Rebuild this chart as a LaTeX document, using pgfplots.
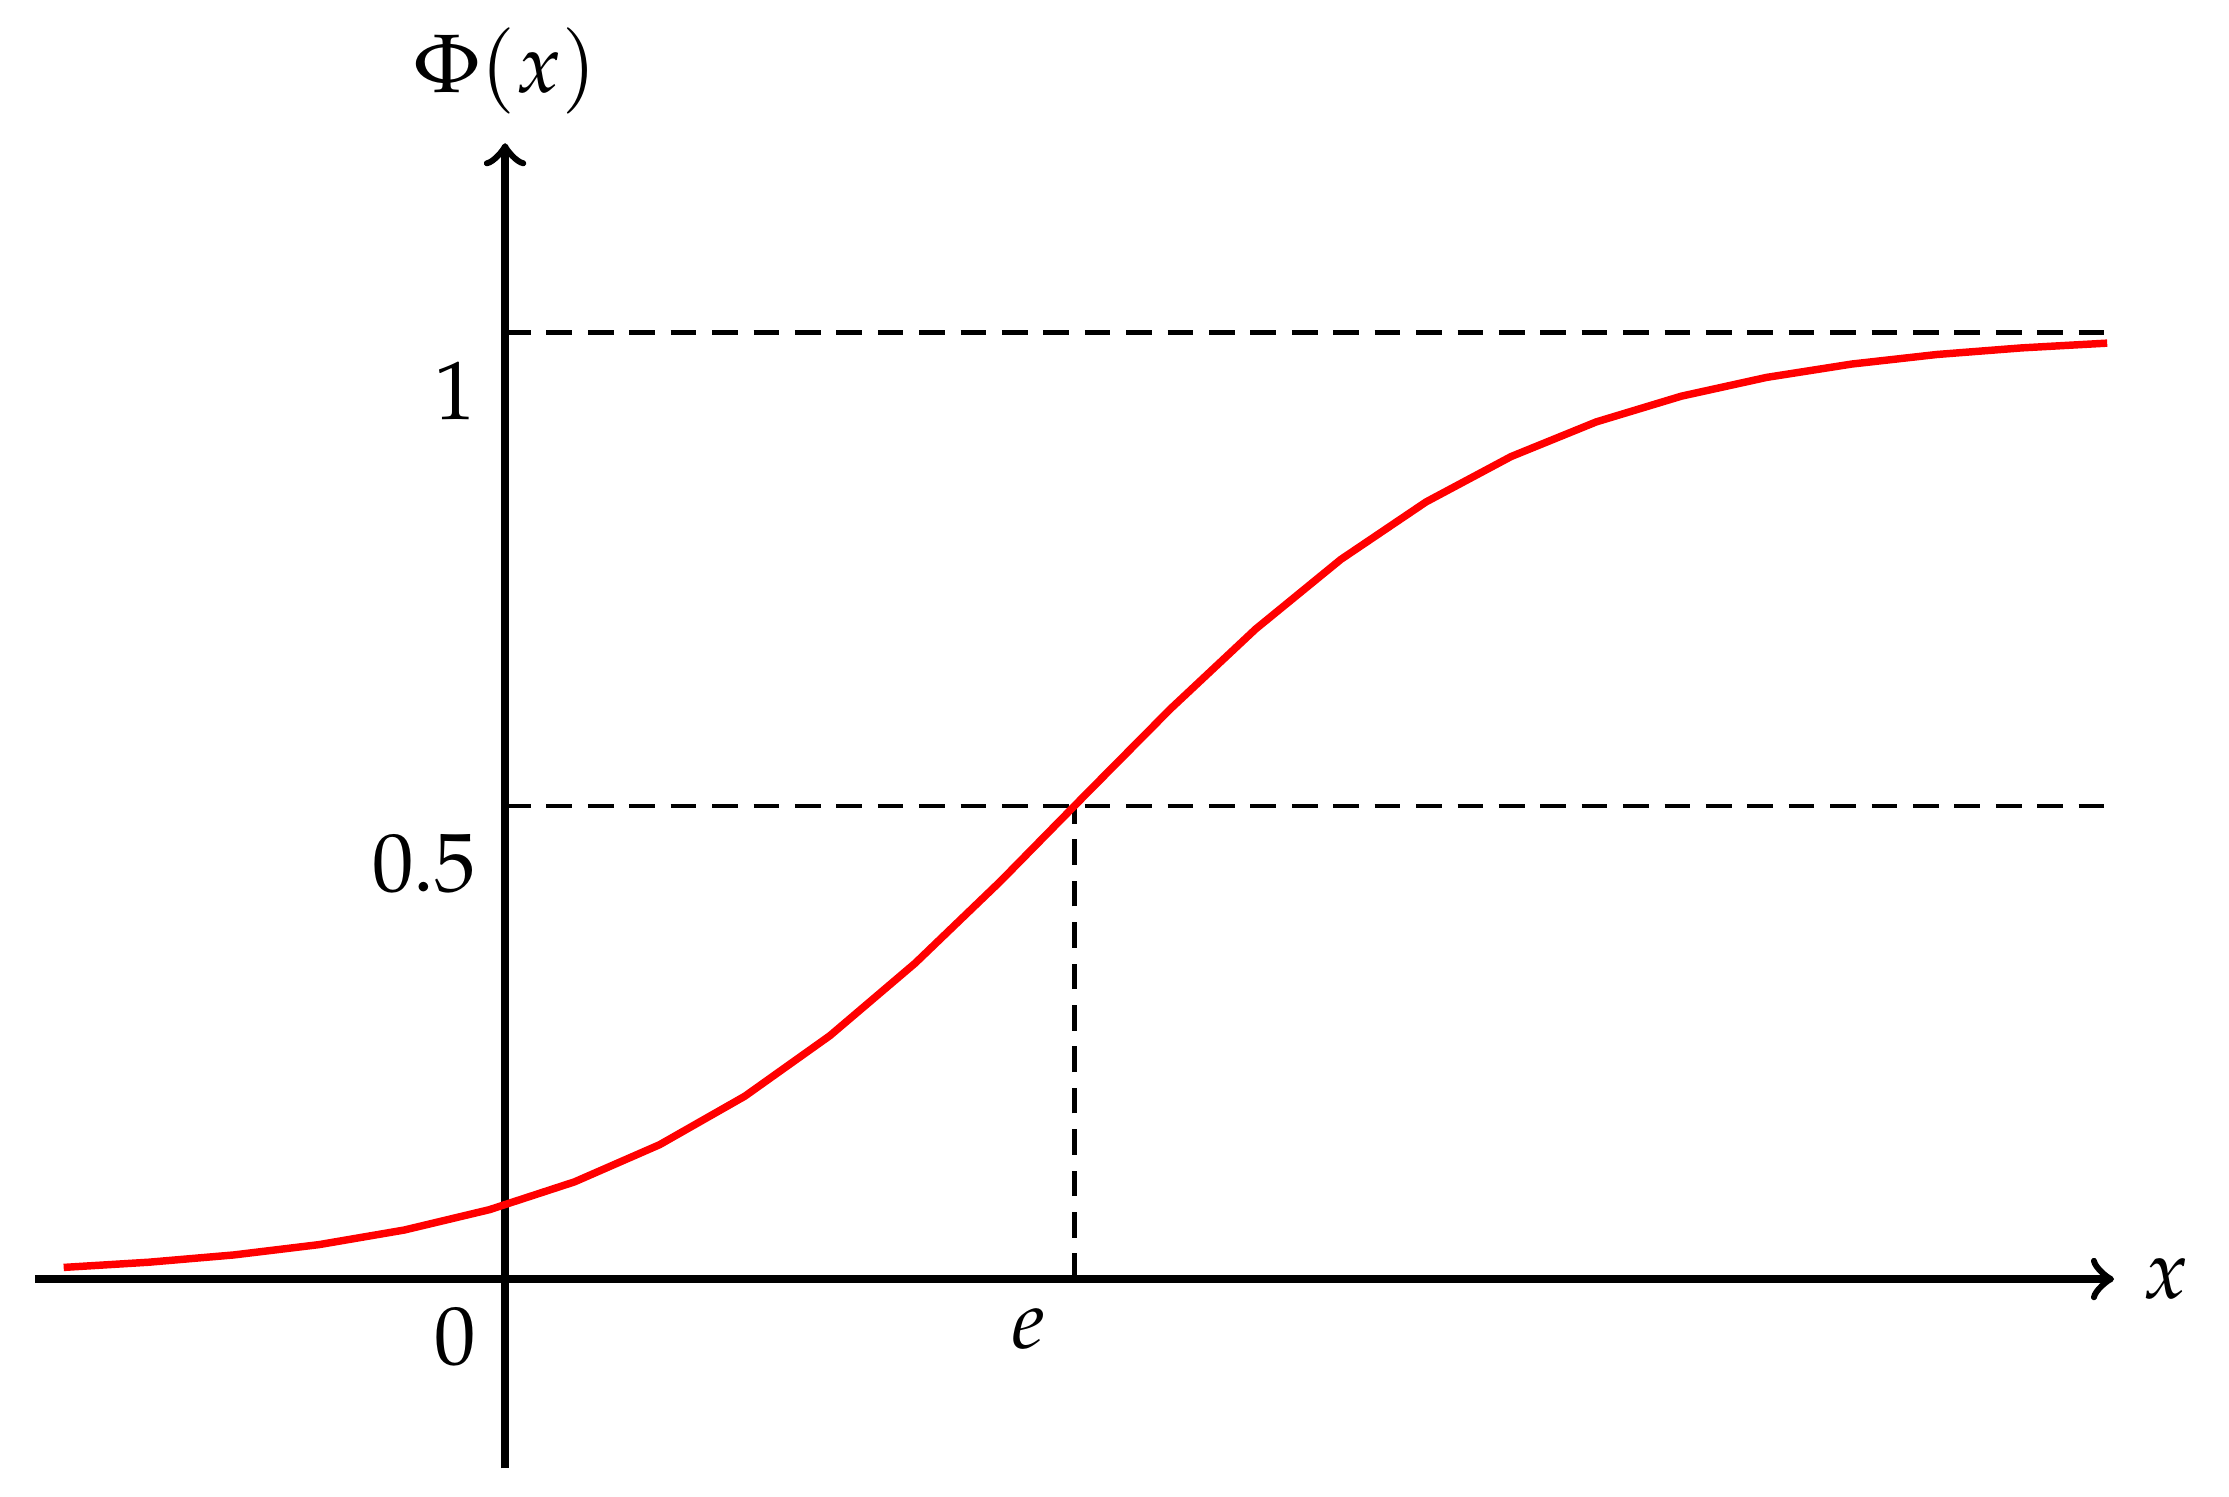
\documentclass[border=0pt]{standalone}
\usepackage{mathpazo}
\usepackage{pgfplots}
\pgfplotsset{compat=1.18}

\begin{document}
\begin{tikzpicture}
\begin{axis}[
    scale only axis,
    width=251pt, height=160pt,
    axis lines=middle,
    axis line style={->, line width=0.9pt},
    xmin=-3.3, xmax=11.3,
    ymin=-0.2, ymax=1.2,
    xtick={0,4}, xticklabels={$0$,$e$},
    ytick={0.5,1}, yticklabels={$0.5$,$1$},
    hide obscured x ticks=false,
    hide obscured y ticks=false,
    major tick length=0pt,
    xticklabel style={anchor=north east},
    yticklabel style={anchor=north east},
    xlabel={$x$}, ylabel={$\Phi(x)$},
    xlabel style={at={(axis cs:11.3,0)}, anchor=west},
    ylabel style={at={(axis cs:0,1.2)}, anchor=south, rotate=0},
    clip=false,
]
% guide lines
\addplot[black, line width=0.55pt, dash pattern=on 3.1pt off 1.9pt] coordinates {(0,1) (11.3,1)};
\addplot[black, line width=0.55pt, dash pattern=on 3.1pt off 1.9pt] coordinates {(0,0.5) (11.3,0.5)};
\addplot[black, line width=0.55pt, dash pattern=on 3.1pt off 1.9pt] coordinates {(4,0) (4,0.5)};
% distribution function
\addplot[red, line width=0.9pt] coordinates {
    (-3.100,0.0123) (-2.502,0.0178) (-1.904,0.0255) (-1.306,0.0364)
    (-0.708,0.0518) (-0.110,0.0733) (0.488,0.1027) (1.086,0.1420)
    (1.684,0.1932) (2.282,0.2572) (2.880,0.3337) (3.478,0.4201)
    (4.076,0.5117) (4.674,0.6025) (5.272,0.6868) (5.870,0.7603)
    (6.468,0.8210) (7.066,0.8690) (7.664,0.9056) (8.262,0.9328)
    (8.860,0.9526) (9.458,0.9667) (10.056,0.9768) (10.654,0.9838)
    (11.252,0.9888)
};
\end{axis}
\path (current bounding box.south west) ++(-3.8pt,-2.9pt);
\path (current bounding box.east) ++(1.5pt,0pt);
\end{tikzpicture}
\end{document}
